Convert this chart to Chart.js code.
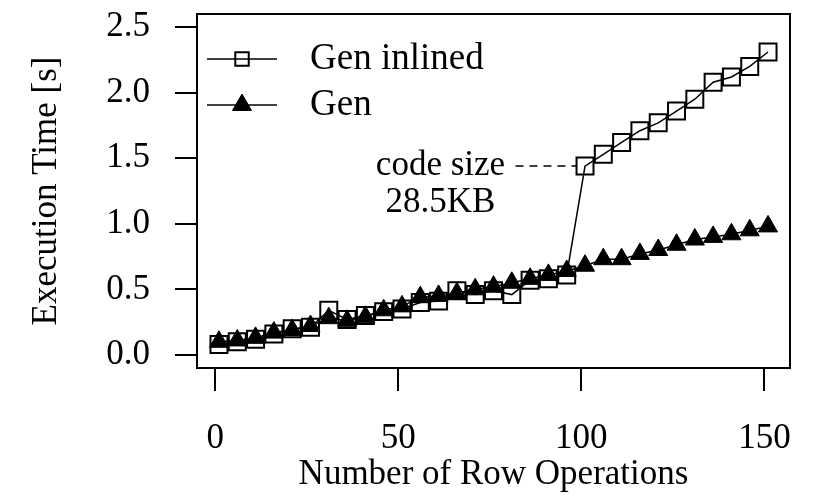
<!DOCTYPE html>
<html>
<head>
<meta charset="utf-8">
<script src="https://cdn.jsdelivr.net/npm/chart.js@4.4.1/dist/chart.umd.min.js"></script>
<style>
  html, body { margin: 0; padding: 0; background: #fff; }
  #wrap { width: 813px; height: 501px; }
</style>
</head>
<body>
<div id="wrap"><canvas id="myChart" width="813" height="501"></canvas></div>
<script>
// data
const rowOps = [1, 6, 11, 16, 21, 26, 31, 36, 41, 46, 51, 56, 61, 66, 71, 76,
                81, 86, 91, 96, 101, 106, 111, 116, 121, 126, 131, 136, 141, 146, 151];
const genInlined = [0.08, 0.10, 0.12, 0.16, 0.20, 0.21, 0.34, 0.27, 0.30, 0.33, 0.35,
                    0.40, 0.41, 0.49, 0.46, 0.49, 0.46, 0.57, 0.58, 0.61, 1.44, 1.53,
                    1.62, 1.71, 1.77, 1.86, 1.95, 2.08, 2.12, 2.20, 2.31];
const gen = [0.10, 0.11, 0.13, 0.17, 0.19, 0.22, 0.28, 0.26, 0.29, 0.34, 0.37,
             0.44, 0.45, 0.47, 0.50, 0.52, 0.55, 0.58, 0.61, 0.64, 0.68, 0.73,
             0.73, 0.77, 0.80, 0.84, 0.88, 0.90, 0.92, 0.95, 0.98];
const seriesNames = ['Gen inlined', 'Gen'];
const xTicks = [0, 50, 100, 150];
const yTicks = [0.0, 0.5, 1.0, 1.5, 2.0, 2.5];
const noteLines = ['code size', '28.5KB'];
const noteIndex = 20;   // the jump at 101 row operations

const FONT = 'Liberation Serif';
const toPoints = (ys) => rowOps.map((x, i) => ({ x: x, y: ys[i] }));

// no extra room for half labels, the box must sit where it sits
function noPad(s) {
  s.paddingTop = 0;
  s.paddingBottom = 0;
  s.paddingLeft = 0;
  s.paddingRight = 0;
}

// box round the plot area
const boxPlugin = {
  id: 'box',
  afterDatasetsDraw(chart) {
    const a = chart.chartArea;
    const ctx = chart.ctx;
    ctx.save();
    ctx.strokeStyle = '#000';
    ctx.lineWidth = 2;
    ctx.strokeRect(a.left, a.top, a.right - a.left, a.bottom - a.top);
    ctx.restore();
  }
};

// legend like the R one: line with the marker on it
const legendPlugin = {
  id: 'rLegend',
  afterDraw(chart) {
    const ctx = chart.ctx;
    const a = chart.chartArea;
    ctx.save();
    chart.data.datasets.forEach((ds, i) => {
      const y = a.top + 45 + i * 46;
      const x0 = a.left + 10;
      ctx.strokeStyle = '#000';
      ctx.lineWidth = 1.5;
      ctx.beginPath();
      ctx.moveTo(x0, y);
      ctx.lineTo(x0 + 70, y);
      ctx.stroke();
      ctx.fillStyle = ds.pointBackgroundColor;
      ctx.lineWidth = ds.pointBorderWidth;
      Chart.helpers.drawPoint(ctx, {
        pointStyle: ds.pointStyle,
        radius: ds.pointStyle === 'rect' ? 9.5 : ds.pointRadius,
        borderWidth: ds.pointBorderWidth,
        rotation: 0
      }, x0 + 35, y);
      ctx.fillStyle = '#000';
      ctx.font = '37px "' + FONT + '"';
      ctx.textAlign = 'left';
      ctx.textBaseline = 'middle';
      ctx.fillText(seriesNames[i], x0 + 103, y);
    });
    ctx.restore();
  }
};

// "code size 28.5KB" note with dashed leader
const notePlugin = {
  id: 'note',
  afterDatasetsDraw(chart) {
    const ctx = chart.ctx;
    const xs = chart.scales.x, ys = chart.scales.y;
    const px = xs.getPixelForValue(rowOps[noteIndex]);
    const py = ys.getPixelForValue(genInlined[noteIndex]);
    const lineStart = xs.getPixelForValue(82);
    ctx.save();
    ctx.strokeStyle = '#000';
    ctx.lineWidth = 1.5;
    ctx.setLineDash([8, 6]);
    ctx.beginPath();
    ctx.moveTo(lineStart, py);
    ctx.lineTo(px - 9, py);
    ctx.stroke();
    ctx.setLineDash([]);
    ctx.fillStyle = '#000';
    ctx.font = '35px "' + FONT + '"';
    ctx.textAlign = 'center';
    ctx.textBaseline = 'middle';
    const cx = lineStart - 75;
    ctx.fillText(noteLines[0], cx, py);
    ctx.fillText(noteLines[1], cx, py + 37);
    ctx.restore();
  }
};

const data = {
  datasets: [{
    label: seriesNames[0],
    data: toPoints(genInlined),
    borderColor: '#000',
    borderWidth: 1.5,
    pointStyle: 'rect',
    pointRadius: 12,
    pointBorderWidth: 2,
    pointBorderColor: '#000',
    pointBackgroundColor: 'rgba(0,0,0,0)',
    order: 1
  }, {
    label: seriesNames[1],
    data: toPoints(gen),
    borderColor: '#000',
    borderWidth: 1.5,
    pointStyle: 'triangle',
    pointRadius: 11,
    pointBorderWidth: 1,
    pointBorderColor: '#000',
    pointBackgroundColor: '#000',
    order: 0
  }]
};

const tickFont = { family: FONT, size: 35 };

const config = {
  type: 'line',
  data,
  options: {
    responsive: false,
    animation: false,
    events: [],
    layout: { padding: { top: 10, right: 23, left: 0, bottom: 0 } },
    elements: { line: { tension: 0 } },
    plugins: { legend: { display: false }, tooltip: { enabled: false } },
    scales: {
      x: {
        type: 'linear',
        min: -5,
        max: 157,
        afterBuildTicks: (s) => { s.ticks = xTicks.map(v => ({ value: v })); },
        afterFit: (s) => { s.height = 133; noPad(s); },
        grid: { drawOnChartArea: false, drawTicks: true, tickLength: 23, color: '#000', lineWidth: 2 },
        border: { display: false },
        ticks: { color: '#000', font: tickFont, padding: 27, maxRotation: 0, callback: (v) => String(v) },
        title: { display: true, text: 'Number of Row Operations', color: '#000', font: tickFont, padding: { top: 0, bottom: 5 } }
      },
      y: {
        min: -0.1,
        max: 2.6,
        afterBuildTicks: (s) => { s.ticks = yTicks.map(v => ({ value: v })); },
        afterFit: (s) => { s.width = 197; noPad(s); },
        grid: { drawOnChartArea: false, drawTicks: true, tickLength: 22, color: '#000', lineWidth: 2 },
        border: { display: false },
        ticks: { color: '#000', font: tickFont, padding: 25, callback: (v) => Number(v).toFixed(1) },
        title: { display: true, text: 'Execution Time [s]', color: '#000', font: tickFont, padding: { top: 26, bottom: 0 } }
      }
    }
  },
  plugins: [boxPlugin, notePlugin, legendPlugin]
};

//render block
const myChart = new Chart(document.getElementById('myChart'), config);
</script>
</body>
</html>
